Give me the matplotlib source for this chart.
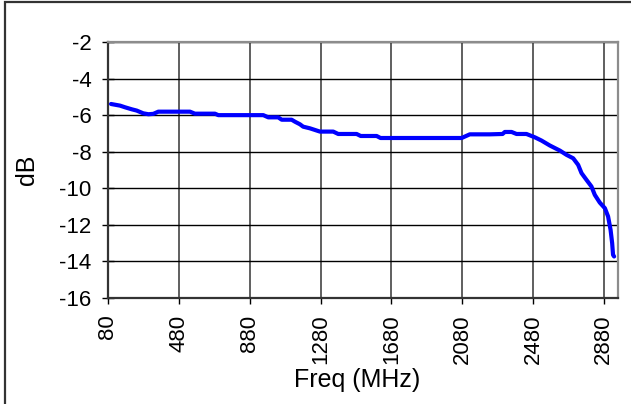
import matplotlib
matplotlib.use("Agg")
import matplotlib.pyplot as plt
from matplotlib.patches import Rectangle

plt.rcParams['font.family'] = ['Liberation Sans', 'DejaVu Sans']
plt.rcParams['axes.unicode_minus'] = False

# readings taken off the trace
freq = [97, 148, 176, 214, 242, 279, 308, 336, 364, 543, 571, 684, 703, 957,
        985, 1041, 1061, 1117, 1136, 1164, 1182, 1220, 1277, 1352, 1380, 1484,
        1507, 1597, 1619, 2077, 2123, 2236, 2308, 2321, 2359, 2387, 2443, 2490,
        2528, 2575, 2632, 2669, 2707, 2735, 2754, 2782, 2810, 2829, 2857, 2886,
        2904, 2918, 2927, 2932, 2938]
db = [-5.39, -5.48, -5.57, -5.68, -5.75, -5.90, -5.95, -5.93, -5.81, -5.81,
      -5.92, -5.92, -6.00, -6.00, -6.12, -6.12, -6.25, -6.25, -6.36, -6.50,
      -6.63, -6.72, -6.90, -6.90, -7.03, -7.03, -7.14, -7.14, -7.25, -7.25,
      -7.05, -7.05, -7.03, -6.92, -6.92, -7.03, -7.03, -7.21, -7.39, -7.66,
      -7.94, -8.17, -8.36, -8.72, -9.17, -9.54, -9.90, -10.36, -10.78, -11.09,
      -11.54, -12.27, -13.00, -13.64, -13.73]

xticks = [80, 480, 880, 1280, 1680, 2080, 2480, 2880]
yticks = [-16, -14, -12, -10, -8, -6, -4, -2]

fig = plt.figure(figsize=(6.31, 4.04), dpi=100)
ax = fig.add_axes([108 / 631, 106 / 404, 510 / 631, 256 / 404])

ax.plot(freq, db, color="#0000FF", linewidth=3.0, solid_capstyle="round", zorder=3)

ax.set_xlim(80, 2960)
ax.set_ylim(-16, -2)
ax.set_xticks(xticks)
ax.set_yticks(yticks)
ax.set_xticklabels([str(t) for t in xticks], rotation=90)

ax.grid(True, axis="y", color="black", linewidth=1.0)
ax.grid(True, axis="x", color="#444444", linewidth=1.2)
ax.set_axisbelow(True)

for side in ["top", "right"]:
    ax.spines[side].set_color("#8c8c8c")
    ax.spines[side].set_linewidth(1.6)
for side in ["left", "bottom"]:
    ax.spines[side].set_color("#333333")
    ax.spines[side].set_linewidth(1.6)

ax.tick_params(axis="y", direction="inout", length=8, width=1, labelsize=16, pad=8)
ax.tick_params(axis="x", direction="out", length=4, width=1, labelsize=16, pad=8)

ax.set_xlabel("Freq (MHz)", fontsize=18, va="center")
ax.xaxis.set_label_coords(0.488, -0.32)
ax.set_ylabel("dB", fontsize=18, va="center")
ax.yaxis.set_label_coords(-0.159, 0.5)

fig.patches.append(Rectangle((5 / 631, -0.05), 1.1, 1 - 2 / 404 + 0.05,
                             transform=fig.transFigure, fill=False,
                             edgecolor="#333333", linewidth=1.6))

fig.savefig("out.png", dpi=100)
